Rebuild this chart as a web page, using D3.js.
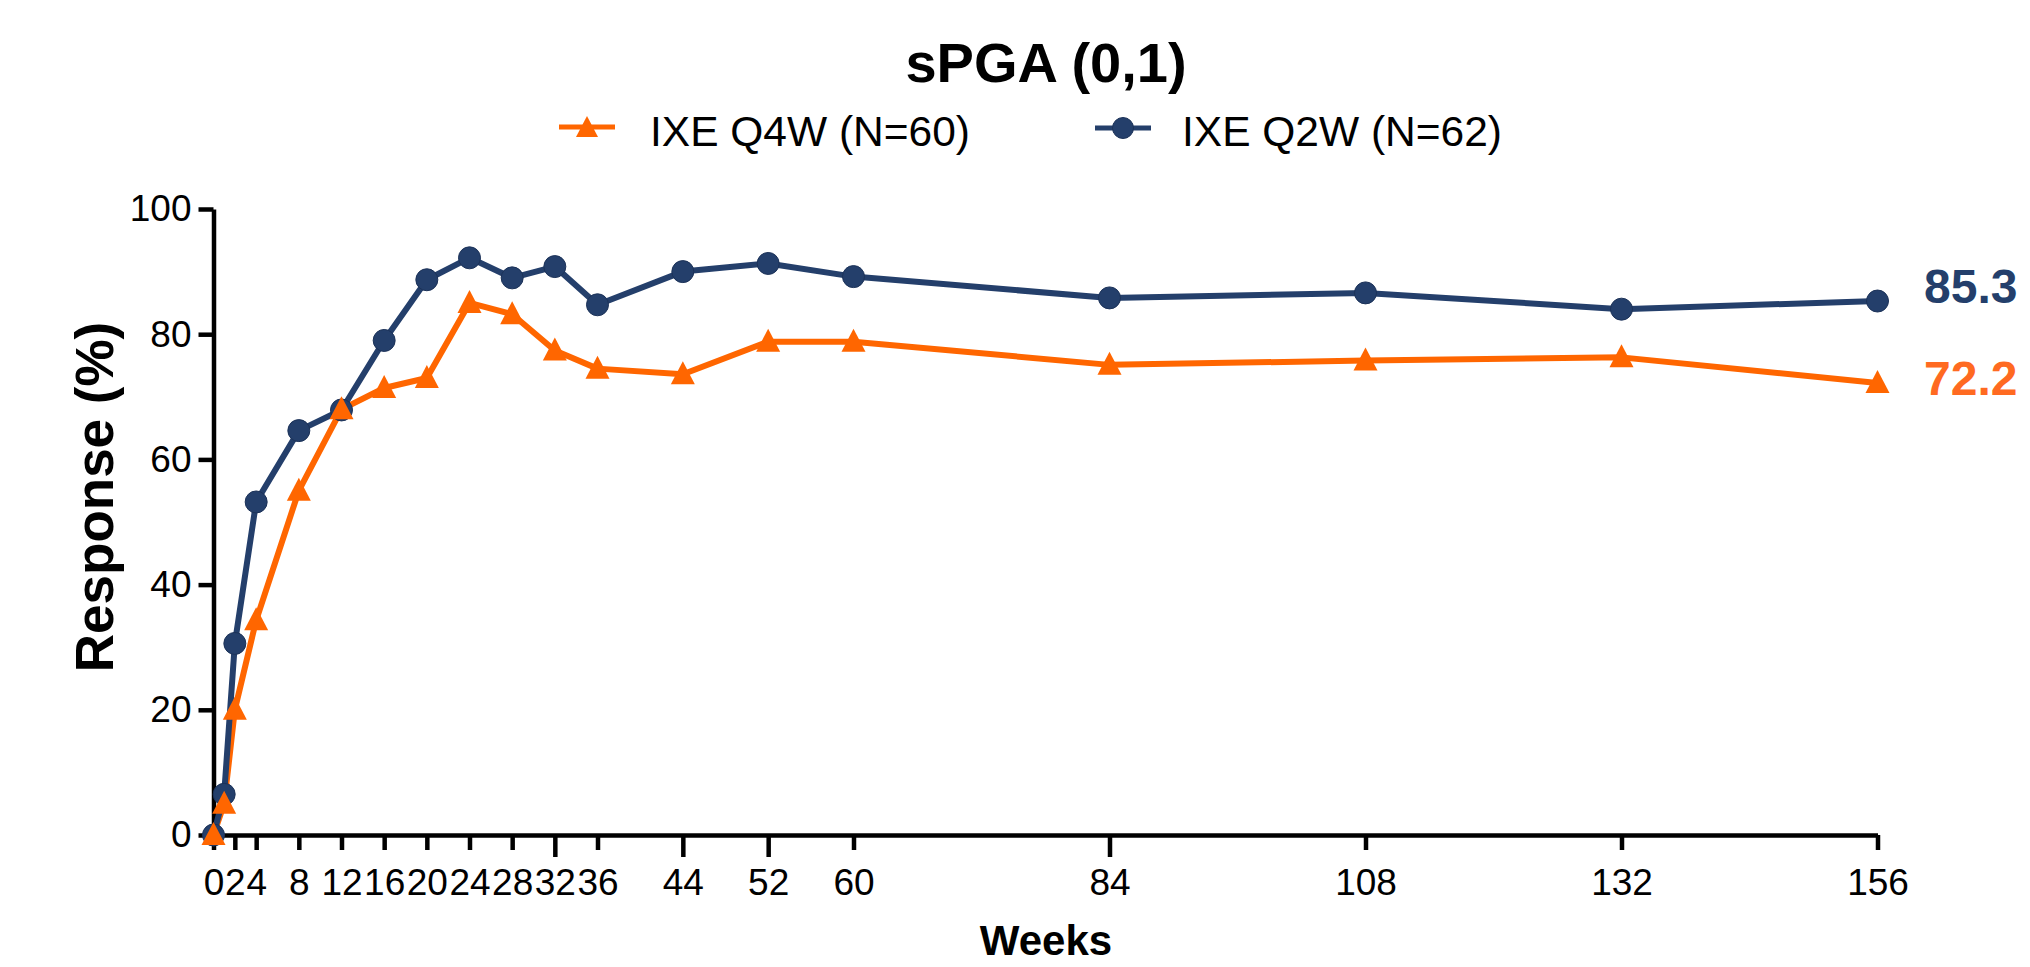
<!DOCTYPE html>
<html>
<head>
<meta charset="utf-8">
<script src="https://cdn.jsdelivr.net/npm/d3@7"></script>
<style>
  html, body { margin: 0; padding: 0; background: #fff; }
  svg { display: block; font-family: Arial, "Liberation Sans", Helvetica, sans-serif; }
</style>
</head>
<body>
<svg id="chart" width="2030" height="967"></svg>
<script>
// Study weeks at which sPGA (0,1) response was assessed
const weeks = [0, 1, 2, 4, 8, 12, 16, 20, 24, 28, 32, 36, 44, 52, 60, 84, 108, 132, 156];

// Response (%) per arm
const q4wValues = [0, 5.0, 20.0, 34.3, 55.0, 68.0, 71.4, 73.0, 85.0, 83.2, 77.4, 74.5, 73.6, 78.8, 78.8, 75.1, 75.8, 76.3, 72.2];
const q2wValues = [0, 6.5, 30.6, 53.2, 64.6, 67.9, 79.0, 88.7, 92.2, 89.0, 90.8, 84.7, 90.0, 91.3, 89.2, 85.8, 86.6, 84.0, 85.3];

const seriesNames = ["IXE Q4W (N=60)", "IXE Q2W (N=62)"];
const xTickValues = [0, 2, 4, 8, 12, 16, 20, 24, 28, 32, 36, 44, 52, 60, 84, 108, 132, 156];
const xLongTicks = [32, 44, 52, 84];
const yTickValues = [0, 20, 40, 60, 80, 100];
const titleText = "sPGA (0,1)";
const xTitle = "Weeks";
const yTitle = "Response (%)";

const ORANGE = "#FF6600";
const NAVY = "#243F6B";

const svg = d3.select("#chart");

const x = d3.scaleLinear().domain([0, 156]).range([213.5, 1877.5]);
const y = d3.scaleLinear().domain([0, 100]).range([835, 209]);

// Title
svg.append("text")
  .attr("x", 1046).attr("y", 82)
  .attr("text-anchor", "middle")
  .attr("font-size", 56).attr("font-weight", "bold")
  .attr("fill", "#000")
  .text(titleText);

// Legend
const triPath = "M0,-13L12,10L-12,10Z";
const legend = svg.append("g");
const leg1 = legend.append("g").attr("transform", "translate(587,127)");
leg1.append("line").attr("x1", -28).attr("x2", 28).attr("stroke", ORANGE).attr("stroke-width", 5);
leg1.append("path").attr("d", "M0,-11L11,10L-11,10Z").attr("fill", ORANGE);
legend.append("text").attr("x", 650).attr("y", 146)
  .attr("font-size", 42.5).attr("fill", "#000").text(seriesNames[0]);

const leg2 = legend.append("g").attr("transform", "translate(1123,128)");
leg2.append("line").attr("x1", -28).attr("x2", 28).attr("stroke", NAVY).attr("stroke-width", 5);
leg2.append("circle").attr("r", 10.5).attr("fill", NAVY).attr("stroke", "#1c3258").attr("stroke-width", 1);
legend.append("text").attr("x", 1182).attr("y", 146)
  .attr("font-size", 42.5).attr("fill", "#000").text(seriesNames[1]);

// Axes
const yAxis = svg.append("g")
  .attr("transform", `translate(${x(0)},0)`)
  .call(d3.axisLeft(y).tickValues(yTickValues).tickSize(15).tickSizeOuter(0).tickPadding(7));

const xAxis = svg.append("g")
  .attr("transform", `translate(0,${y(0)})`)
  .call(d3.axisBottom(x).tickValues(xTickValues).tickSize(15).tickSizeOuter(0).tickPadding(19));

[xAxis, yAxis].forEach(g => {
  g.select(".domain").attr("stroke", "#000").attr("stroke-width", 4.5);
  g.selectAll(".tick line").attr("stroke", "#000").attr("stroke-width", 4.5);
  g.selectAll(".tick text").attr("font-size", 37).attr("fill", "#000")
    .attr("font-family", "Arial, 'Liberation Sans', Helvetica, sans-serif");
});
xAxis.selectAll(".tick line").attr("y2", d => xLongTicks.includes(d) ? 22 : 15);

// Axis titles
svg.append("text")
  .attr("x", 1046).attr("y", 955)
  .attr("text-anchor", "middle")
  .attr("font-size", 42).attr("font-weight", "bold")
  .text(xTitle);

svg.append("text")
  .attr("transform", "translate(113,497) rotate(-90)")
  .attr("text-anchor", "middle")
  .attr("font-size", 53).attr("font-weight", "bold")
  .text(yTitle);

// Series lines and markers
const line = d3.line().x(d => x(d[0])).y(d => y(d[1]));
const q4w = weeks.map((w, i) => [w, q4wValues[i]]);
const q2w = weeks.map((w, i) => [w, q2wValues[i]]);

svg.append("path").datum(q4w).attr("d", line)
  .attr("fill", "none").attr("stroke", ORANGE).attr("stroke-width", 6).attr("stroke-linejoin", "round");
svg.append("path").datum(q2w).attr("d", line)
  .attr("fill", "none").attr("stroke", NAVY).attr("stroke-width", 6).attr("stroke-linejoin", "round");

svg.append("g").selectAll("circle").data(q2w).join("circle")
  .attr("cx", d => x(d[0])).attr("cy", d => y(d[1])).attr("r", 11)
  .attr("fill", NAVY).attr("stroke", "#1c3258").attr("stroke-width", 1);

svg.append("g").selectAll("path").data(q4w).join("path")
  .attr("transform", d => `translate(${x(d[0])},${y(d[1])})`)
  .attr("d", triPath).attr("fill", ORANGE);

// End-of-study value labels
const lastQ2w = q2wValues[q2wValues.length - 1];
const lastQ4w = q4wValues[q4wValues.length - 1];
svg.append("text")
  .attr("x", 1924).attr("y", y(lastQ2w) + 2)
  .attr("font-size", 48).attr("font-weight", "bold").attr("fill", NAVY)
  .text(lastQ2w.toFixed(1));
svg.append("text")
  .attr("x", 1924).attr("y", y(lastQ4w) + 12)
  .attr("font-size", 48).attr("font-weight", "bold").attr("fill", "#FF6A21")
  .text(lastQ4w.toFixed(1));
</script>
</body>
</html>
